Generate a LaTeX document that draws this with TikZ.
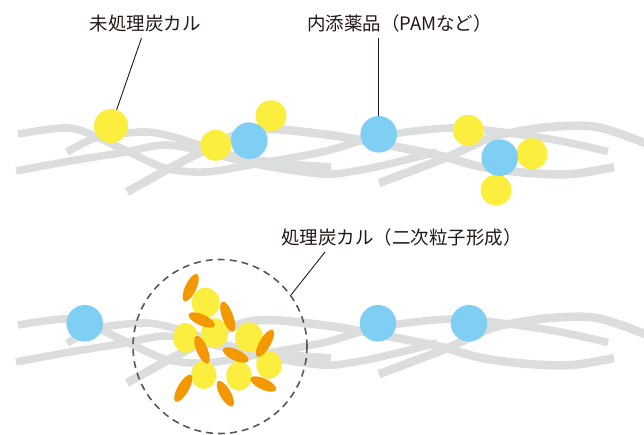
\documentclass[tikz,border=0pt]{standalone}
\usepackage{fontspec}
\setmainfont{Noto Sans CJK JP}
\usetikzlibrary{shapes.geometric}

\definecolor{fibregray}{HTML}{DCDDDD}
\definecolor{carbonyellow}{HTML}{FCEE3F}
\definecolor{pamblue}{HTML}{7FCEF4}
\definecolor{flocorange}{HTML}{F39800}
\definecolor{inkline}{HTML}{231815}
\definecolor{dashgray}{HTML}{595757}

\tikzset{
  fibre/.style={draw=fibregray, line width=7.6pt},
  carbon/.style={circle, fill=carbonyellow, inner sep=0pt, minimum size=31pt},
  pam/.style={circle, fill=pamblue, inner sep=0pt, minimum size=36.6pt},
  grain/.style={ellipse, fill=carbonyellow, inner sep=0pt},
  floc/.style={ellipse, fill=flocorange, inner sep=0pt, minimum height=11pt},
  leader/.style={draw=inkline, line width=0.9pt},
  caption/.style={text=inkline, inner sep=0pt, font=\fontsize{18.5}{20}\selectfont}
}

\begin{document}
\begin{tikzpicture}[x=1pt,y=-1pt]
\useasboundingbox (0,0) rectangle (644,434);

% the fibre mat, same in both rows
\foreach \dy in {0,191} {
\begin{scope}[shift={(0,\dy)}]
\draw[fibre] plot[smooth,tension=0.55] coordinates {(18,134) (62,128) (85,132) (125,150) (165,168) (205,172) (250,165) (322,152) (360,141) (399,133) (450,128) (485,130) (555,140) (608,151.5)};
\draw[fibre] plot[smooth,tension=0.55] coordinates {(16,171) (70,161) (120,153) (165,145) (205,152) (260,165) (322,174) (355,171) (389,164) (437,152)};
\draw[fibre] plot[smooth,tension=0.55] coordinates {(67,152) (90,140) (110,135) (145,132) (170,136) (205,147) (235,156) (280,163) (331,167)};
\draw[fibre, line width=8.5pt] plot[smooth,tension=0.55] coordinates {(127,192) (170,168) (205,150) (240,133) (270,129) (322,134) (360,140) (437,155) (482,167) (529,173) (572,174) (614,167)};
\draw[fibre, line width=8.5pt] plot[smooth,tension=0.55] coordinates {(379,183) (445,158) (489,138) (515,132) (549,127) (589,126) (615,132) (646,143.5)};
\end{scope}
}

% upper row
\node[carbon, minimum size=34pt] (y1) at (111,126) {};
\node[carbon] (y2) at (215.7,145.3) {};
\node[carbon] (y3) at (271,115.7) {};
\node[pam] (b1) at (249.3,140.7) {};
\node[pam] (b2) at (378.7,134.3) {};
\node[carbon] (y4) at (468.3,130.3) {};
\node[carbon] (y5) at (532,153.7) {};
\node[carbon] (y6) at (496,190) {};
\node[pam] (b3) at (499.7,157.7) {};

% lower row
\node[pam] (b4) at (84.7,323.3) {};
\node[pam] (b5) at (378,323.3) {};
\node[pam] (b6) at (469,323.3) {};

% secondary particle
\node[circle, draw=dashgray, line width=1.6pt, dash pattern=on 7pt off 5pt, inner sep=0pt, minimum size=174pt] (bubble) at (220,346.5) {};

\node[grain, minimum width=28pt, minimum height=30pt] (g1) at (205.7,302.7) {};
\node[grain, minimum width=25pt, minimum height=30pt] (g2) at (185.7,338) {};
\node[grain, minimum width=27pt, minimum height=29.5pt] (g3) at (214.7,333) {};
\node[grain, minimum width=28pt, minimum height=30pt] (g4) at (249,337.3) {};
\node[grain, minimum width=25.5pt, minimum height=28pt] (g5) at (269,365) {};
\node[grain, minimum width=25.5pt, minimum height=29.5pt] (g6) at (239,376) {};
\node[grain, minimum width=25.5pt, minimum height=28pt] (g7) at (203.7,375) {};

\node[floc, minimum width=30pt, rotate=65] (o1) at (190.7,287.7) {};
\node[floc, minimum width=28.5pt, rotate=-24] (o2) at (201.7,320) {};
\node[floc, minimum width=32pt, rotate=-70] (o3) at (227.7,316.7) {};
\node[floc, minimum width=30pt, rotate=-67] (o4) at (202,349.7) {};
\node[floc, minimum width=28pt, rotate=-25] (o5) at (235.7,355) {};
\node[floc, minimum width=31pt, rotate=60] (o6) at (265,343.3) {};
\node[floc, minimum width=28pt, rotate=-25] (o7) at (263.3,384) {};
\node[floc, minimum width=31pt, rotate=60] (o8) at (183.3,388.3) {};
\node[floc, minimum width=29pt, rotate=-60] (o9) at (225.3,393.7) {};

% captions and their leader lines
\node[caption] (untreated) at (145,23.5) {未処理炭カル};
\node[caption] (additive) at (399.5,23.5) {内添薬品（PAMなど）};
\node[caption] (treated) at (401.5,237.5) {処理炭カル（二次粒子形成）};

\coordinate (c1) at (141.5,38);
\coordinate (c2) at (378.7,38);
\coordinate (c3) at (325,252);
\draw[leader] (c1) -- (y1);
\draw[leader] (c2) -- (b2);
\draw[leader] (c3) -- (bubble.36);
\end{tikzpicture}
\end{document}
